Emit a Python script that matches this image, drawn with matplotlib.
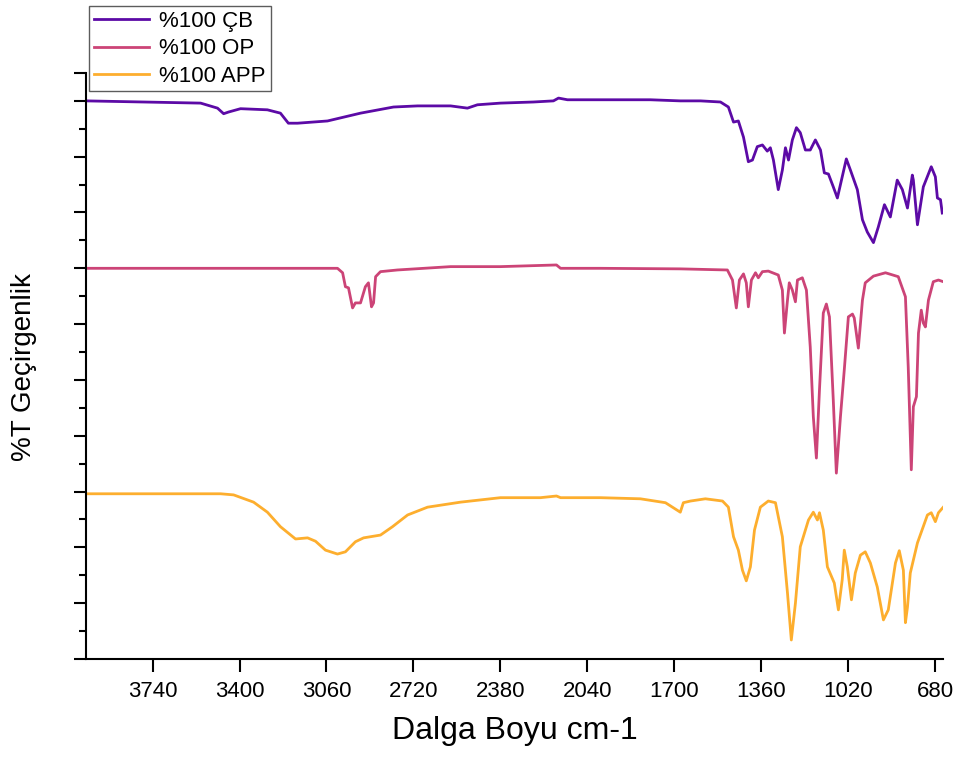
import numpy as np
import matplotlib
matplotlib.use("Agg")
import matplotlib.pyplot as plt
from matplotlib.ticker import MultipleLocator, FixedLocator, NullFormatter

plt.rcParams['font.family'] = ['Liberation Sans', 'DejaVu Sans']

# wavenumber (cm-1) / offset transmittance
cb_x = [4000, 3552, 3486, 3462, 3443, 3396, 3291, 3240, 3209, 3173, 3056, 2927, 2798, 2704,
        2575, 2509, 2470, 2380, 2251, 2173, 2153, 2118, 1989, 1794, 1677, 1598, 1520, 1489,
        1469, 1450, 1430, 1411, 1395, 1376, 1356, 1337, 1325, 1313, 1294, 1278, 1266, 1254,
        1239, 1223, 1208, 1188, 1169, 1149, 1129, 1114, 1098, 1079, 1063, 1044, 1028, 1012,
        985, 965, 946, 922, 903, 879, 856, 829, 809, 789, 770, 766, 750, 727, 696, 680, 672,
        660, 653]
cb_y = [10.0, 9.96, 9.87, 9.77, 9.80, 9.86, 9.84, 9.78, 9.60, 9.60, 9.64, 9.78, 9.89, 9.91,
        9.91, 9.87, 9.93, 9.96, 9.98, 10.0, 10.05, 10.02, 10.02, 10.02, 10.0, 10.0, 9.98, 9.89,
        9.62, 9.64, 9.35, 8.91, 8.94, 9.18, 9.21, 9.10, 9.16, 8.94, 8.41, 8.76, 9.16, 8.94,
        9.30, 9.52, 9.43, 9.12, 9.12, 9.30, 9.12, 8.71, 8.69, 8.46, 8.26, 8.64, 8.96, 8.76,
        8.41, 7.87, 7.65, 7.46, 7.74, 8.14, 7.92, 8.58, 8.41, 8.08, 8.67, 8.58, 7.78, 8.46,
        8.82, 8.64, 8.26, 8.23, 7.99]

op_x = [4000, 3017, 2997, 2986, 2974, 2958, 2947, 2927, 2908, 2896, 2884, 2876, 2868, 2849,
        2783, 2575, 2380, 2161, 2145, 1989, 1677, 1493, 1473, 1458, 1446, 1430, 1419, 1411,
        1399, 1383, 1372, 1356, 1333, 1294, 1278, 1270, 1258, 1251, 1239, 1227, 1219, 1200,
        1184, 1169, 1157, 1145, 1133, 1118, 1106, 1094, 1079, 1067, 1051, 1036, 1020, 1004,
        997, 981, 965, 954, 922, 875, 825, 797, 786, 774, 766, 754, 746, 735, 727, 719, 707,
        688, 668, 649]
op_y = [7.0, 7.0, 6.92, 6.67, 6.65, 6.29, 6.38, 6.38, 6.67, 6.74, 6.31, 6.38, 6.85, 6.94,
        6.97, 7.03, 7.03, 7.06, 7.0, 7.0, 6.99, 6.97, 6.79, 6.29, 6.79, 6.90, 6.74, 6.31,
        6.79, 6.92, 6.83, 6.94, 6.95, 6.88, 6.61, 5.84, 6.43, 6.74, 6.61, 6.40, 6.79, 6.83,
        6.61, 5.59, 4.34, 3.60, 4.82, 6.20, 6.36, 6.13, 4.64, 3.33, 4.34, 5.18, 6.13, 6.18,
        6.11, 5.57, 6.43, 6.74, 6.86, 6.92, 6.85, 6.49, 5.23, 3.39, 4.52, 4.70, 5.84, 6.25,
        6.02, 5.95, 6.43, 6.76, 6.79, 6.76]

app_x = [4000, 3474, 3423, 3345, 3291, 3240, 3181, 3134, 3103, 3064, 3017, 2986, 2947, 2915,
         2849, 2802, 2743, 2665, 2536, 2380, 2224, 2161, 2145, 1989, 1833, 1735, 1677, 1665,
         1637, 1579, 1512, 1489, 1469, 1450, 1434, 1419, 1403, 1387, 1364, 1333, 1305, 1278,
         1258, 1243, 1227, 1208, 1176, 1157, 1141, 1133, 1118, 1102, 1075, 1059, 1044, 1036,
         1024, 1008, 993, 973, 954, 934, 907, 883, 864, 836, 821, 805, 797, 789, 778, 750,
         711, 696, 680, 668, 649]
app_y = [2.96, 2.96, 2.94, 2.81, 2.63, 2.37, 2.15, 2.17, 2.11, 1.95, 1.88, 1.92, 2.10, 2.17,
         2.22, 2.37, 2.58, 2.72, 2.81, 2.89, 2.89, 2.92, 2.89, 2.89, 2.87, 2.80, 2.63, 2.80,
         2.83, 2.87, 2.83, 2.72, 2.19, 1.95, 1.59, 1.40, 1.65, 2.31, 2.72, 2.83, 2.80, 2.19,
         1.18, 0.34, 1.00, 2.01, 2.49, 2.63, 2.49, 2.62, 2.31, 1.65, 1.36, 0.88, 1.42, 1.95,
         1.65, 1.06, 1.54, 1.86, 1.92, 1.72, 1.29, 0.70, 0.88, 1.72, 1.94, 1.59, 0.65, 0.93,
         1.54, 2.08, 2.58, 2.62, 2.46, 2.62, 2.72]

labels = ['%100 ÇB', '%100 OP', '%100 APP']
colors = ['#5c0aa6', '#cc4477', '#fdae2e']
xticks = [3740, 3400, 3060, 2720, 2380, 2040, 1700, 1360, 1020, 680]

fig = plt.figure(figsize=(9.61, 7.57), dpi=100)
ax = fig.add_axes([0.0895, 0.1295, 0.8918, 0.7741])

for xs, ys, c, lab in zip([cb_x, op_x, app_x], [cb_y, op_y, app_y], colors, labels):
    ax.plot(xs, ys, color=c, lw=2.0, label=lab, solid_joinstyle='round')

ax.set_xlim(4000, 650)
ax.set_ylim(0, 10.5)

ax.xaxis.set_major_locator(FixedLocator(xticks))
ax.yaxis.set_major_locator(FixedLocator(list(np.arange(0, 11, 1.0)) + [10.5]))
ax.yaxis.set_minor_locator(MultipleLocator(0.5))
ax.yaxis.set_major_formatter(NullFormatter())

ax.spines['top'].set_visible(False)
ax.spines['right'].set_visible(False)
ax.spines['left'].set_linewidth(1.5)
ax.spines['bottom'].set_linewidth(1.5)
ax.tick_params(axis='both', which='major', direction='out', length=9, width=1.5,
               labelsize=16, pad=7)
ax.tick_params(axis='y', which='minor', direction='out', length=5, width=1.5)

ax.set_xlabel('Dalga Boyu cm-1', fontsize=23, labelpad=10)
ax.set_ylabel('%T Geçirgenlik', fontsize=20)
ax.yaxis.set_label_coords(-0.057, 0.498)

leg = ax.legend(loc='upper left', bbox_to_anchor=(0.0035, 1.114), borderaxespad=0,
                fontsize=16, frameon=True, fancybox=False, handlelength=2.5,
                handletextpad=0.45, labelspacing=0.28, borderpad=0.22)
leg.get_frame().set_edgecolor('#333333')
leg.get_frame().set_linewidth(1.0)

fig.savefig('out.png', dpi=100)
